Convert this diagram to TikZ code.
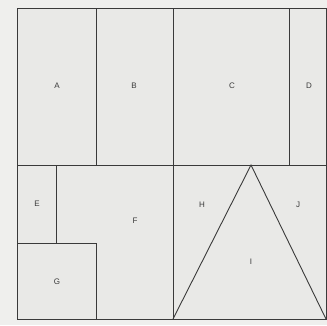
\documentclass[tikz,border=0pt]{standalone}
\usepackage{fontspec}
\setmainfont{Liberation Sans}
\definecolor{paper}{HTML}{E9E9E7}
\definecolor{outer}{HTML}{EFEFED}
\definecolor{ink}{HTML}{3A3A3A}
\begin{document}
\begin{tikzpicture}[x=1pt,y=-1pt,
  wall/.style={draw=ink,line width=0.9pt},
  lbl/.style={font=\fontsize{8}{9}\selectfont,text=ink,inner sep=0pt}]
\fill[outer] (0,0) rectangle (327,325);
\useasboundingbox (0,0) rectangle (327,325);
\fill[paper] (17,8) rectangle (326,319);
% outer frame
\draw[wall] (17,8) rectangle (326,319);
% top row dividers
\draw[wall] (17,165) -- (326,165);
\draw[wall] (96,8) -- (96,165);
\draw[wall] (173,8) -- (173,319);
\draw[wall] (289,8) -- (289,165);
% bottom left
\draw[wall] (56,165) -- (56,243);
\draw[wall] (17,243) -- (96,243) -- (96,319);
% triangle
\draw[wall] (173,319) -- (251,165) -- (326,319);
% labels
\node[lbl] (A) at (57,86) {A};
\node[lbl] (B) at (134,86) {B};
\node[lbl] (C) at (232,86) {C};
\node[lbl] (D) at (309,86) {D};
\node[lbl] (E) at (37,204) {E};
\node[lbl] (F) at (135,221) {F};
\node[lbl] (G) at (57,282) {G};
\node[lbl] (H) at (202,205) {H};
\node[lbl] (I) at (251,262) {I};
\node[lbl] (J) at (298,205) {J};
\end{tikzpicture}
\end{document}
